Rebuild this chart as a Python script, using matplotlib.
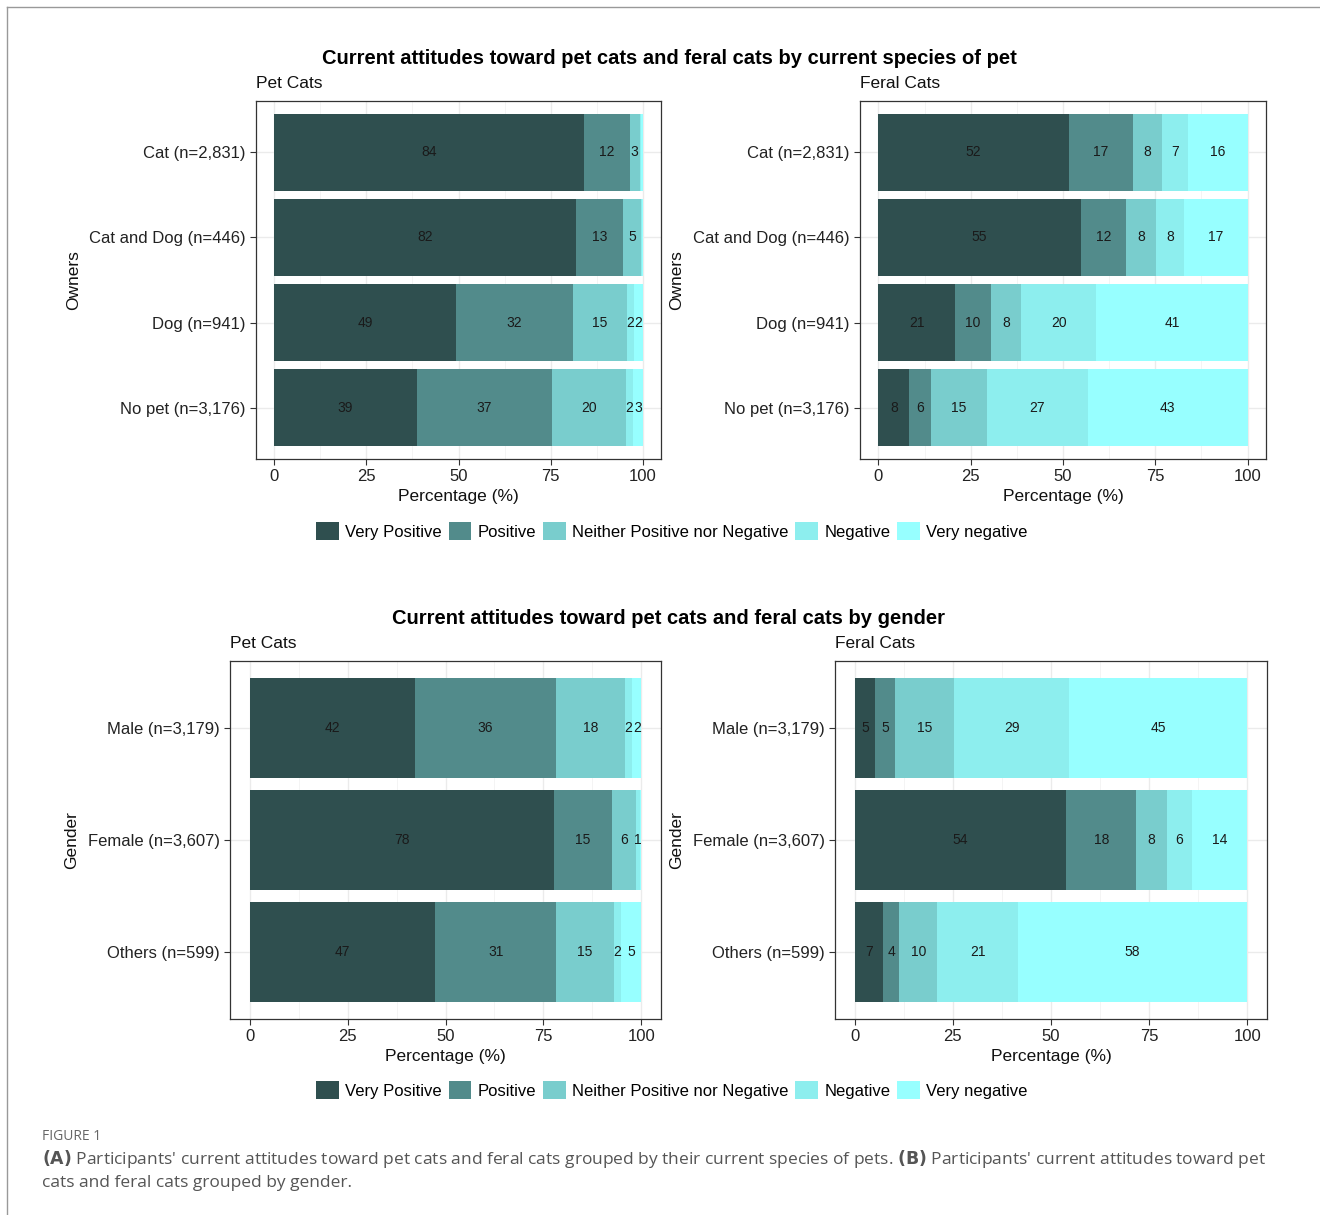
import numpy as np
import matplotlib.pyplot as plt
from matplotlib.patches import Patch
from matplotlib.lines import Line2D

plt.rcParams['font.family'] = ['Liberation Sans', 'DejaVu Sans']

levels = ["Very Positive", "Positive", "Neither Positive nor Negative", "Negative", "Very negative"]
colors = ["#2F4F4F", "#528B8B", "#79CDCD", "#8DEEEE", "#97FFFF"]

owners = ["Cat (n=2,831)", "Cat and Dog (n=446)", "Dog (n=941)", "No pet (n=3,176)"]
owners_pet = [
    [84.2, 12.3, 2.7, 0.5, 0.3],
    [81.8, 13.0, 4.8, 0.2, 0.2],
    [49.2, 31.8, 14.8, 1.9, 2.3],
    [38.6, 36.7, 20.2, 1.9, 2.6],
]
owners_feral = [
    [51.5, 17.4, 7.9, 7.2, 16.0],
    [54.8, 12.3, 8.0, 7.7, 17.2],
    [20.7, 9.7, 8.2, 20.4, 41.0],
    [8.3, 5.9, 15.1, 27.4, 43.3],
]

gender = ["Male (n=3,179)", "Female (n=3,607)", "Others (n=599)"]
gender_pet = [
    [42.2, 35.9, 17.7, 1.9, 2.3],
    [77.6, 14.9, 6.0, 1.2, 0.3],
    [47.3, 31.0, 14.6, 1.8, 5.3],
]
gender_feral = [
    [5.2, 5.1, 15.0, 29.4, 45.3],
    [53.9, 17.8, 7.8, 6.4, 14.1],
    [7.3, 4.1, 9.6, 20.6, 58.4],
]

W, H = 1320, 1215
fig = plt.figure(figsize=(W / 100, H / 100), dpi=100)


def px_axes(x0, y0, x1, y1):
    return fig.add_axes([x0 / W, 1 - y1 / H, (x1 - x0) / W, (y1 - y0) / H])


def stacked(ax, cats, data, title, ylab):
    n = len(cats)
    ypos = np.arange(n)[::-1] + 1
    data = np.array(data)
    left = np.zeros(n)
    for j in range(data.shape[1]):
        ax.barh(ypos, data[:, j], left=left, height=0.9, color=colors[j], zorder=2)
        for i in range(n):
            v = data[i, j]
            if v >= 1:
                ax.text(left[i] + v / 2, ypos[i], f"{v:.0f}", ha="center", va="center",
                        fontsize=10, color="#1a1a1a", zorder=3)
        left += data[:, j]
    ax.set_xlim(-5, 105)
    ax.set_ylim(0.4, n + 0.6)
    ax.set_xticks([0, 25, 50, 75, 100])
    ax.set_xticks([12.5, 37.5, 62.5, 87.5], minor=True)
    ax.set_yticks(ypos)
    ax.set_yticklabels(cats)
    ax.tick_params(axis="both", labelsize=12, colors="#333333", length=4, width=0.8)
    ax.tick_params(axis="both", labelcolor="#222222")
    ax.tick_params(axis="x", which="minor", length=0)
    ax.grid(True, which="major", color="#ebebeb", lw=1.0, zorder=0)
    ax.grid(True, which="minor", axis="x", color="#f3f3f3", lw=0.6, zorder=0)
    for s in ax.spines.values():
        s.set_color("#333333")
        s.set_linewidth(0.9)
    ax.set_xlabel("Percentage (%)", fontsize=12.5, color="#111111", labelpad=3)
    ax.set_ylabel(ylab, fontsize=12.5, color="#111111", labelpad=6)
    ax.set_title(title, loc="left", fontsize=12.5, color="#111111", pad=9)


ax1 = px_axes(256, 101, 661, 459)
stacked(ax1, owners, owners_pet, "Pet Cats", "Owners")
ax2 = px_axes(860, 101, 1266, 459)
stacked(ax2, owners, owners_feral, "Feral Cats", "Owners")
ax3 = px_axes(230, 661, 661, 1019)
stacked(ax3, gender, gender_pet, "Pet Cats", "Gender")
ax4 = px_axes(835, 661, 1267, 1019)
stacked(ax4, gender, gender_feral, "Feral Cats", "Gender")

fig.text(669 / W, 1 - 58 / H, "Current attitudes toward pet cats and feral cats by current species of pet",
         ha="center", va="center", fontsize=14.5, fontweight="bold", color="#000000")
fig.text(669 / W, 1 - 618 / H, "Current attitudes toward pet cats and feral cats by gender",
         ha="center", va="center", fontsize=14.5, fontweight="bold", color="#000000")

handles = [Patch(facecolor=c, edgecolor="none") for c in colors]
for yl in (531, 1090):
    fig.legend(handles, levels, loc="center", bbox_to_anchor=(672 / W, 1 - yl / H), ncol=5,
               frameon=False, fontsize=12, handlelength=1.35, handleheight=1.35,
               handletextpad=0.4, columnspacing=0.4)

# frame lines around figure
fig.add_artist(Line2D([7 / W, 1], [1 - 7 / H, 1 - 7 / H], color="#999999", lw=1))
fig.add_artist(Line2D([7 / W, 7 / W], [0, 1 - 7 / H], color="#999999", lw=1))

fig.text(42 / W, 1 - 1136 / H, "FIGURE 1", fontsize=10, color="#666666", va="center",
         family=["Open Sans", "DejaVu Sans"])
fig.text(42 / W, 1 - 1159 / H,
         r"$\mathbf{(A)}$ Participants' current attitudes toward pet cats and feral cats grouped by their current species of pets. "
         r"$\mathbf{(B)}$ Participants' current attitudes toward pet",
         fontsize=12.5, color="#555555", va="center", family=["Open Sans", "DejaVu Sans"])
fig.text(42 / W, 1 - 1183 / H, "cats and feral cats grouped by gender.",
         fontsize=12.5, color="#555555", va="center", family=["Open Sans", "DejaVu Sans"])

fig.savefig("out.png", dpi=100, facecolor="white")
